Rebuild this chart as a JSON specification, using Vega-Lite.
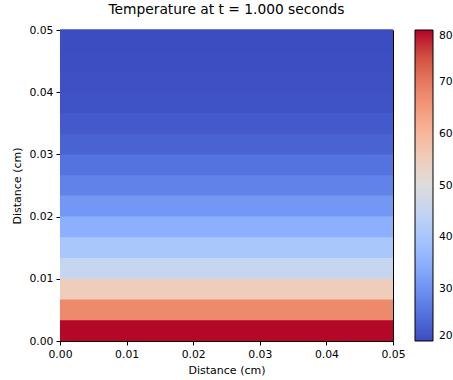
{
  "$schema": "https://vega.github.io/schema/vega-lite/v6.json",
  "autosize": "none",
  "width": 333,
  "height": 311,
  "padding": {"left": 60, "top": 30, "right": 60, "bottom": 39},
  "background": "white",
  "title": {"text": "Temperature at t = 1.000 seconds", "font": "DejaVu Sans", "fontSize": 13.8, "fontWeight": "normal", "color": "black", "offset": 7, "anchor": "middle"},
  "config": {
    "view": {"stroke": "black", "strokeWidth": 1},
    "axis": {"labelFont": "DejaVu Sans", "labelFontSize": 10.8, "labelColor": "black", "titleFont": "DejaVu Sans", "titleFontSize": 11, "titleFontWeight": "normal", "titleColor": "black", "tickColor": "black", "domainColor": "black", "tickSize": 4, "grid": false, "labelPadding": 3, "labelFlush": false}
  },
  "data": {"values": [
    {"y0": 0, "y1": 0.003333, "temp": 79.8},
    {"y0": 0.003333, "y1": 0.006667, "temp": 67.6},
    {"y0": 0.006667, "y1": 0.01, "temp": 55.2},
    {"y0": 0.01, "y1": 0.013333, "temp": 45.4},
    {"y0": 0.013333, "y1": 0.016667, "temp": 40.4},
    {"y0": 0.016667, "y1": 0.02, "temp": 35.0},
    {"y0": 0.02, "y1": 0.023333, "temp": 30.8},
    {"y0": 0.023333, "y1": 0.026667, "temp": 27.5},
    {"y0": 0.026667, "y1": 0.03, "temp": 25.3},
    {"y0": 0.03, "y1": 0.033333, "temp": 23.1},
    {"y0": 0.033333, "y1": 0.036667, "temp": 21.9},
    {"y0": 0.036667, "y1": 0.04, "temp": 20.9},
    {"y0": 0.04, "y1": 0.043333, "temp": 20.6},
    {"y0": 0.043333, "y1": 0.046667, "temp": 20.3},
    {"y0": 0.046667, "y1": 0.05, "temp": 20.1}
  ]},
  "mark": {"type": "rect", "strokeWidth": 0, "y2Offset": -0.7},
  "encoding": {
    "x": {"datum": 0, "type": "quantitative", "scale": {"domain": [0, 0.05], "nice": false, "zero": false},
      "axis": {"title": "Distance (cm)", "values": [0, 0.01, 0.02, 0.03, 0.04, 0.05], "format": ".2f", "titlePadding": 6}},
    "x2": {"datum": 0.05},
    "y": {"field": "y0", "type": "quantitative", "scale": {"domain": [0, 0.05], "nice": false, "zero": false},
      "axis": {"title": "Distance (cm)", "values": [0, 0.01, 0.02, 0.03, 0.04, 0.05], "format": ".2f", "titlePadding": 6}},
    "y2": {"field": "y1"},
    "fill": {"field": "temp", "type": "quantitative",
      "scale": {"type": "linear", "interpolate": "rgb", "domain": [20, 80],
        "range": ["#3b4cc0", "#4d68d7", "#6082e9", "#749af7", "#8db0fe", "#a1c2fd", "#b5cdfa", "#cbd8ee", "#dddcdc", "#ecd3c5", "#f5c4ac", "#f7b093", "#f49a7b", "#ea8366", "#dc6550", "#cb423a", "#b40426"]},
      "legend": {"orient": "none", "legendX": 355, "legendY": 0, "direction": "vertical", "title": null,
        "gradientLength": 311, "gradientThickness": 18, "gradientStrokeColor": "black", "gradientStrokeWidth": 1,
        "values": [20, 30, 40, 50, 60, 70, 80], "labelFont": "DejaVu Sans", "labelFontSize": 10.8, "labelColor": "black", "labelOffset": 6, "labelOverlap": false, "labelBaseline": "middle"}}
  }
}
